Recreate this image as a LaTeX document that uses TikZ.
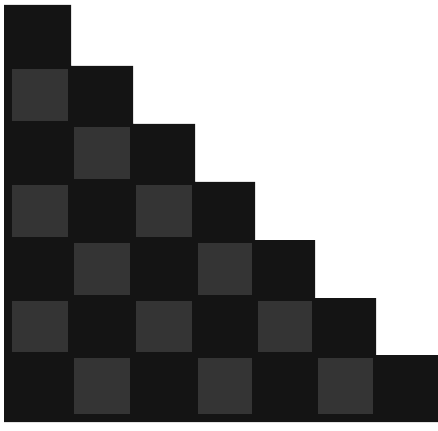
\documentclass[tikz,border=0pt]{standalone}
\definecolor{darkcell}{RGB}{20,20,20}
\definecolor{graycell}{RGB}{52,52,52}
\begin{document}
\begin{tikzpicture}[x=1pt,y=-1pt]
\useasboundingbox (0,0) rectangle (438,430);
\def\xs{{4,71,133,195,255,315,376,438}}
\def\ys{{5,66,124,182,240,298,355,422}}
% staircase
\fill[darkcell] (4,5) -- (71,5) -- (71,66) -- (133,66) -- (133,124) -- (195,124) -- (195,182)
  -- (255,182) -- (255,240) -- (315,240) -- (315,298) -- (376,298) -- (376,355) -- (438,355)
  -- (438,422) -- (4,422) -- cycle;
% gray cells
\foreach \r in {1,...,6}{
  \foreach \c in {0,...,\r}{
    \pgfmathparse{int(mod(\r+\c,2))}
    \ifnum\pgfmathresult=1
      \pgfmathsetmacro{\xa}{\xs[\c]+3}
      \pgfmathsetmacro{\xb}{\xs[\c+1]-3}
      \pgfmathsetmacro{\ya}{\ys[\r]+3}
      \pgfmathsetmacro{\yb}{\ys[\r+1]-3}
      \ifnum\c=0 \pgfmathsetmacro{\xa}{12}\fi
      \ifnum\r=6 \pgfmathsetmacro{\yb}{414}\fi
      \fill[graycell] (\xa,\ya) rectangle (\xb,\yb);
    \fi
  }
}
\end{tikzpicture}
\end{document}
